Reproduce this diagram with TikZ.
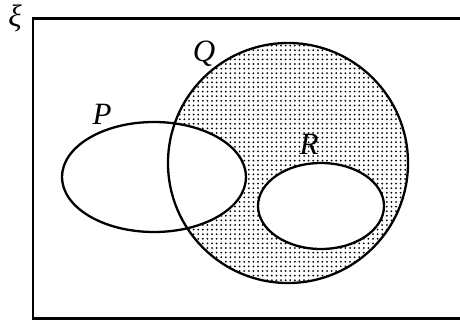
\documentclass[tikz,border=0pt]{standalone}
\usepackage{fontspec}
\setmainfont{Liberation Serif}
\begin{document}
\begin{tikzpicture}[x=1pt,y=-1pt,
  outline/.style={line width=2.3pt},
  lab/.style={font=\fontsize{31}{36}\selectfont\itshape, inner sep=0pt, anchor=base}]
\useasboundingbox (0,0) rectangle (460,321);
% universal set
\begin{scope}
\clip (0,0) rectangle (460,321);
\draw[line width=2.6pt] (33,18.5) rectangle (480,318.5);
\end{scope}
% dotted region of Q
\begin{scope}
\clip (288,163) circle [radius=120];
\foreach \i in {0,...,54}{
  \foreach \j in {0,...,54}{
    \fill ({166+\i*4.6},{41+\j*4.6}) circle [radius=1.0];
  }
}
\end{scope}
\fill[white] (154,177) ellipse [x radius=92, y radius=55];
\fill[white] (321,206) ellipse [x radius=63, y radius=43];
\draw[outline] (288,163) circle [radius=120];
\draw[outline] (154,177) ellipse [x radius=92, y radius=55];
\draw[outline] (321,206) ellipse [x radius=63, y radius=43];
% labels
\node[lab] (xi) at (15,27) {ξ};
\node[lab] (Q) at (204,62) {Q};
\node[lab] (P) at (102,124) {P};
\node[lab] (R) at (309,154) {R};
\end{tikzpicture}
\end{document}
